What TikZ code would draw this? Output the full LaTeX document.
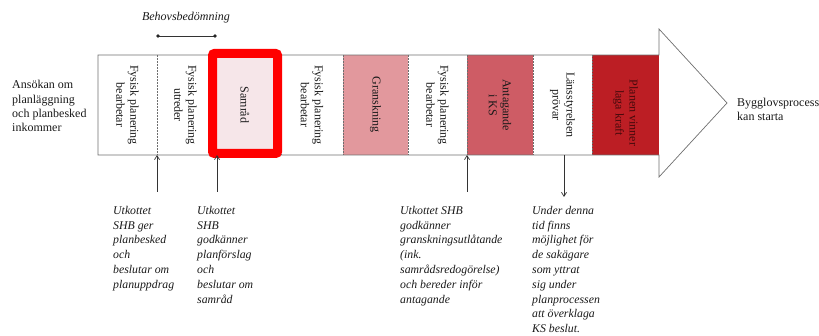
\documentclass[tikz,border=0pt]{standalone}
\usepackage{fontspec}
\setmainfont{Liberation Serif}
\usetikzlibrary{arrows.meta}
\definecolor{pinkA}{RGB}{246,230,233}
\definecolor{pinkB}{RGB}{226,152,157}
\definecolor{redC}{RGB}{206,92,101}
\definecolor{redD}{RGB}{188,30,36}
\definecolor{txtD}{RGB}{70,10,12}
\definecolor{gline}{RGB}{110,110,110}
\tikzset{
  cell/.style={minimum width=#1, minimum height=100pt, inner sep=0pt, outer sep=0pt, anchor=north west},
  vtext/.style={rotate=-90, align=center, font=\fontsize{12}{14}\selectfont, text=black!90},
  note/.style={anchor=north west, align=left, inner sep=0pt, font=\fontsize{11.8}{14.8}\selectfont\itshape, text=black!90},
  divider/.style={gline, densely dotted, line width=0.5pt},
  conn/.style={black!80, line width=0.7pt, -{Straight Barb[length=4pt,width=5pt]}},
  plain/.style={align=left, inner sep=0pt, font=\fontsize{12}{14.2}\selectfont, text=black!90},
}
\begin{document}
\begin{tikzpicture}[x=1pt,y=-1pt]
\useasboundingbox (0,0) rectangle (819,336);
% cells
\node[cell=59pt] (c1) at (98,55) {};
\node[cell=57pt] (c2) at (157,55) {};
\node[cell=67pt,fill=pinkA] (c3) at (214,55) {};
\node[cell=62pt] (c4) at (281,55) {};
\node[cell=65pt,fill=pinkB] (c5) at (343,55) {};
\node[cell=59pt] (c6) at (408,55) {};
\node[cell=66pt,fill=redC] (c7) at (467,55) {};
\node[cell=59pt] (c8) at (533,55) {};
\node[cell=67pt,fill=redD] (c9) at (592,55) {};
% outline with arrow head
\draw[gline, line width=0.7pt] (98,55) -- (659,55) -- (659,29) -- (727,103) -- (659,177) -- (659,155) -- (98,155) -- cycle;
% dividers
\foreach \x in {157,214,281,343,408,467,533,592}
  \draw[divider] (\x,55) -- (\x,155);
% red box
\draw[red, line width=9pt, rounded corners=2pt] (212.5,53.5) rectangle (277.5,153.5);
% vertical texts
\node[vtext] at (c1.center) {Fysisk planering\\bearbetar};
\node[vtext] at (c2.center) {Fysisk planering\\utreder};
\node[vtext] at (245,105) {Samråd};
\node[vtext] at (c4.center) {Fysisk planering\\bearbetar};
\node[vtext] at (c5.center) {Granskning};
\node[vtext] at (c6.center) {Fysisk planering\\bearbetar};
\node[vtext] at (c7.center) {Antagande\\i KS};
\node[vtext] at (c8.center) {Länsstyrelsen\\prövar};
\node[vtext, text=txtD] at ([yshift=-8pt]c9.center) {Planen vinner\\laga kraft};
% behovsbedömning
\node[font=\fontsize{12}{14}\selectfont\itshape, text=black!90] (bh) at (186,18) {Behovsbedömning};
\coordinate (b1) at (158,36);
\coordinate (b2) at (215,36);
\draw[black!80, line width=0.7pt] (b1) -- (b2);
\fill[black!85] (b1) circle (1.8pt) (b2) circle (1.8pt);
% side texts
\node[plain, anchor=west] (ans) at (12,106) {Ansökan om\\planläggning\\och planbesked\\inkommer};
\node[plain, anchor=west] (byg) at (737,109) {Bygglovsprocess\\kan starta};
% notes
\node[note] (n1) at (113,206) {Utkottet\\SHB ger\\planbesked\\och\\beslutar om\\planuppdrag};
\node[note] (n2) at (197,206) {Utkottet\\SHB\\godkänner\\planförslag\\och\\beslutar om\\samråd};
\node[note] (n3) at (400,206) {Utkottet SHB\\godkänner\\granskningsutlåtande\\(ink.\\samrådsredogörelse)\\och bereder inför\\antagande};
\node[note] (n4) at (532,206) {Under denna\\tid finns\\möjlighet för\\de sakägare\\som yttrat\\sig under\\planprocessen\\att överklaga\\KS beslut.};
% connectors
\coordinate (a1) at (157,192);
\coordinate (a2) at (217,192);
\coordinate (a3) at (467,192);
\coordinate (a4) at (564,197);
\draw[conn] (a1) -- (c1.south east);
\draw[conn] (a2) -- (217,155);
\draw[conn] (a3) -- (c6.south east);
\draw[conn] (c8.south west -| a4) -- (a4);
\end{tikzpicture}
\end{document}
